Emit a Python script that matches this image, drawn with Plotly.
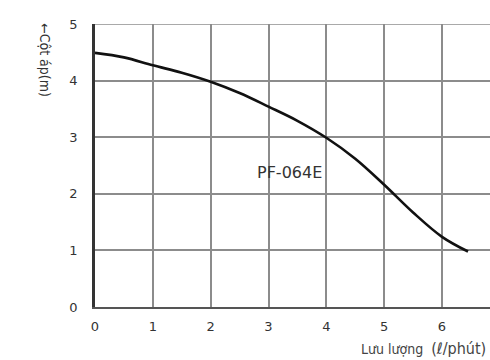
import plotly.graph_objects as go

# Pump performance curve: flow (l/min) vs head (m)
flow = [0, 0.5, 1, 1.5, 2, 2.5, 3, 3.5, 4, 4.5, 5, 5.5, 6, 6.45]
head = [4.49, 4.41, 4.27, 4.14, 3.98, 3.78, 3.54, 3.29, 2.99, 2.62, 2.16, 1.67, 1.24, 0.98]

x_ticks = [0, 1, 2, 3, 4, 5, 6]
y_ticks = [0, 1, 2, 3, 4, 5]

model_label = "PF-064E"
y_title = "←Cột áp(m)"
x_title = "Lưu lượng  <span style='font-size:16px'>(ℓ/phút)</span>"

fig = go.Figure()
fig.add_trace(go.Scatter(
    x=flow, y=head, mode="lines",
    line=dict(color="#111111", width=2.6, shape="spline", smoothing=1.0),
    hoverinfo="skip", showlegend=False,
))

fig.add_annotation(x=3.37, y=2.37, xref="x", yref="y", text=model_label,
                   showarrow=False, font=dict(family="DejaVu Sans", size=16, color="#333333"))

fig.add_annotation(x=-0.127, y=0.873, xref="paper", yref="paper", text=y_title, textangle=90,
                   xanchor="center", yanchor="middle",
                   showarrow=False, font=dict(family="DejaVu Sans Condensed", size=14, color="#333333"))

fig.add_annotation(x=0.995, y=-0.148, xref="paper", yref="paper", text=x_title,
                   xanchor="right", yanchor="middle",
                   showarrow=False, font=dict(family="DejaVu Sans Condensed", size=14, color="#444444"))

grid = "#8c8c8c"
# top border at the 5 m gridline
fig.add_shape(type="line", xref="paper", yref="y", x0=0, x1=1, y0=5, y1=5,
              line=dict(color=grid, width=1.6), layer="below")

fig.update_xaxes(
    range=[0, 6.83], tickvals=x_ticks, ticktext=[str(v) for v in x_ticks],
    showgrid=True, gridcolor=grid, gridwidth=1.6,
    showline=True, linecolor="#555555", linewidth=1.6,
    zeroline=False, ticks="", ticklabelstandoff=7,
    tickfont=dict(family="DejaVu Sans", size=13, color="#333333"),
)
fig.update_yaxes(
    range=[0, 5], tickvals=y_ticks, ticktext=[str(v) for v in y_ticks],
    showgrid=True, gridcolor=grid, gridwidth=1.6,
    showline=True, linecolor="#333333", linewidth=2.6,
    zeroline=False, ticks="", ticklabelstandoff=12,
    tickfont=dict(family="DejaVu Sans", size=13, color="#333333"),
)

fig.update_layout(
    width=490, height=360,
    margin=dict(l=95, r=0, t=24, b=53),
    plot_bgcolor="white", paper_bgcolor="white",
)

fig.write_html("out.html")
